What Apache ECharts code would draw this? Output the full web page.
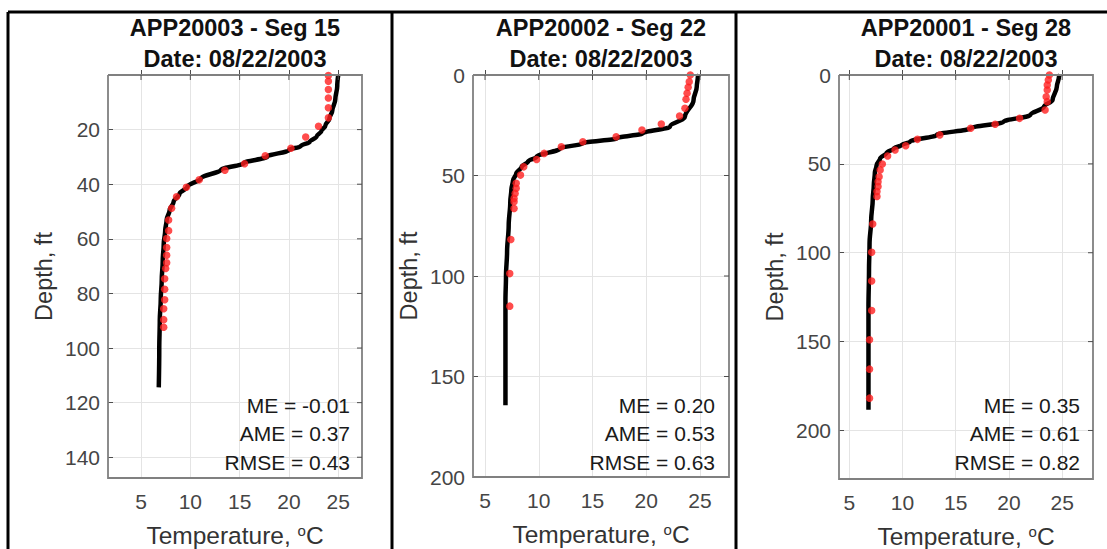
<!DOCTYPE html>
<html>
<head>
<meta charset="utf-8">
<script src="https://cdn.jsdelivr.net/npm/echarts@6/dist/echarts.min.js"></script>
<style>
  html, body { margin: 0; padding: 0; background: #ffffff; }
  #chart { width: 1107px; height: 549px; }
</style>
</head>
<body>
<div id="chart"></div>
<script>
// ---- data -------------------------------------------------------------
const tempTicks = [5, 10, 15, 20, 25];
const depthTicksSeg15 = [20, 40, 60, 80, 100, 120, 140];
const depthTicksSeg22 = [0, 50, 100, 150, 200];
const depthTicksSeg28 = [0, 50, 100, 150, 200];

const profileTitles = ['APP20003 - Seg 15', 'APP20002 - Seg 22', 'APP20001 - Seg 28'];
const profileDate = 'Date: 08/22/2003';

const meValues = ['-0.01', '0.20', '0.35'];
const ameValues = ['0.37', '0.53', '0.61'];
const rmseValues = ['0.43', '0.63', '0.82'];

// simulated profiles [temperature °C, depth ft]
const modelSeg15 = [
  [25.0, 0], [24.9, 4], [24.7, 9], [24.4, 13], [24.1, 16], [23.7, 18.5], [23.3, 20.5],
  [22.8, 22.5], [22.1, 24.5], [21.2, 26], [20.0, 27.5], [17.8, 29.9], [15.4, 32.3],
  [13.1, 34.7], [11.1, 37.8], [9.7, 40.9], [8.9, 43.5], [8.3, 46.5], [7.9, 49.5],
  [7.6, 53], [7.45, 57], [7.3, 62], [7.2, 68], [7.1, 75], [7.0, 82], [6.9, 90],
  [6.85, 100], [6.8, 114.4]
];
const modelSeg22 = [
  [24.9, 0], [24.8, 1], [24.7, 5.8], [24.4, 12.5], [23.6, 20.8], [22.2, 25.7], [19.7, 29],
  [17.3, 31.5], [14.1, 34], [12.0, 36.5], [9.8, 40.7], [9.0, 43], [8.4, 45.7], [7.9, 49],
  [7.6, 52.5], [7.45, 57], [7.35, 63], [7.2, 75], [7.05, 88], [6.95, 100], [6.9, 112],
  [6.9, 164.3]
];
const modelSeg28 = [
  [24.8, 0], [24.7, 1], [24.5, 6.6], [24.1, 14.1], [23.3, 17.8], [22.0, 22.5], [19.5, 26.3],
  [16.4, 30], [13.2, 33.7], [10.7, 37.5], [9.9, 39.5], [9.2, 41.2], [8.5, 43.8], [7.9, 46.9],
  [7.55, 51], [7.4, 55], [7.3, 62], [7.2, 70], [7.05, 82], [6.9, 95], [6.85, 110],
  [6.8, 130], [6.8, 188.4]
];

// observed profiles [temperature °C, depth ft]
const obsSeg15 = [
  [24.0, 0.2], [24.0, 2.3], [24.0, 5.3], [24.0, 8.4], [24.0, 12], [24.0, 15.7], [23.0, 18.8],
  [21.7, 22.7], [20.2, 26.8], [17.6, 29.6], [15.5, 32.5], [13.5, 34.9], [10.9, 38.4],
  [9.6, 41.1], [8.6, 44.6], [8.1, 48.8], [7.8, 53.1], [7.8, 57], [7.6, 59.9], [7.6, 63.2],
  [7.6, 66], [7.6, 68.8], [7.5, 70.9], [7.4, 74.6], [7.4, 78.5], [7.4, 82.3], [7.3, 85.6],
  [7.3, 89.6], [7.3, 92.4]
];
const obsSeg22 = [
  [24.1, 0], [24.0, 3.3], [23.9, 6.1], [23.8, 9.1], [23.7, 12.1], [23.6, 16.6], [23.1, 20.4],
  [21.4, 24.4], [19.6, 27.4], [17.2, 30.7], [14.1, 33.2], [12.1, 35.7], [10.5, 39],
  [9.8, 42], [8.6, 45.7], [8.3, 49.8], [7.9, 53.9], [7.9, 56.4], [7.8, 58.9], [7.7, 61.4],
  [7.7, 63.1], [7.7, 66.4], [7.4, 81.8], [7.3, 98.8], [7.3, 115]
];
const obsSeg28 = [
  [23.8, 0], [23.7, 2.8], [23.6, 5.6], [23.6, 8.4], [23.5, 12.2], [23.6, 15], [23.4, 19.7],
  [21.0, 24.4], [18.7, 27.7], [16.4, 30], [13.5, 33.7], [11.4, 36.2], [10.3, 39.8],
  [9.3, 42.2], [8.6, 45.6], [8.1, 50.1], [7.9, 53.4], [7.8, 57.2], [7.7, 60], [7.7, 62.8],
  [7.6, 65.6], [7.6, 68.4], [7.2, 83.8], [7.1, 99.7], [7.1, 115.9], [7.1, 132.5],
  [6.9, 149], [6.9, 165.5], [6.9, 181.8]
];

// ---- layout -----------------------------------------------------------
const panels = [
  { left: 108, top: 75, width: 254, height: 403, xMin: 1.65, xMax: 27.41, yMin: 0, yMax: 147.6,
    yTicks: depthTicksSeg15, model: modelSeg15, obs: obsSeg15, statsRight: 350 },
  { left: 473, top: 75, width: 256, height: 402, xMin: 3.88, xMax: 27.7, yMin: 0, yMax: 200,
    yTicks: depthTicksSeg22, model: modelSeg22, obs: obsSeg22, statsRight: 715 },
  { left: 839, top: 75, width: 254, height: 404, xMin: 4.03, xMax: 27.9, yMin: 0, yMax: 227.3,
    yTicks: depthTicksSeg28, model: modelSeg28, obs: obsSeg28, statsRight: 1080 }
];

const FONT = '"Liberation Sans", Arial, Helvetica, sans-serif';
const boxColor = '#808080';
const tickColor = '#4d4d4d';
const gridColor = '#e4e4e4';
const labelColor = '#454545';
const TICK_LEN = 5;

const grid = [], xAxis = [], yAxis = [], series = [], graphic = [];

panels.forEach((p, i) => {
  grid.push({ left: p.left, top: p.top, width: p.width, height: p.height,
              containLabel: false, outerBoundsMode: 'none' });

  xAxis.push({
    type: 'value', gridIndex: i, position: 'bottom', min: p.xMin, max: p.xMax,
    axisLine: { show: false },
    axisTick: { show: true, inside: true, length: TICK_LEN, customValues: tempTicks,
                lineStyle: { color: tickColor, width: 1 } },
    axisLabel: { customValues: tempTicks, color: labelColor, fontSize: 21, fontFamily: FONT, margin: 13 },
    splitLine: { show: true, lineStyle: { color: gridColor, width: 1 } },
    name: 'Temperature, {sup|o}C', nameLocation: 'middle', nameGap: 45,
    nameTextStyle: { color: '#333333', fontSize: 24.5, fontFamily: FONT,
      rich: { sup: { fontSize: 15, color: '#333333', fontFamily: FONT, verticalAlign: 'top' } } }
  });
  yAxis.push({
    type: 'value', gridIndex: i, position: 'left', inverse: true, min: p.yMin, max: p.yMax,
    axisLine: { show: false },
    axisTick: { show: true, inside: true, length: TICK_LEN, customValues: p.yTicks,
                lineStyle: { color: tickColor, width: 1 } },
    axisLabel: { customValues: p.yTicks, color: labelColor, fontSize: 21, fontFamily: FONT, margin: 8 },
    splitLine: { show: true, lineStyle: { color: gridColor, width: 1 } },
    name: 'Depth, ft', nameLocation: 'middle', nameGap: 52,
    nameTextStyle: { color: '#333333', fontSize: 23.5, fontFamily: FONT }
  });

  series.push({
    type: 'line', name: 'Simulated', xAxisIndex: i, yAxisIndex: i,
    data: p.model, showSymbol: false, smooth: 0.35, smoothMonotone: 'y',
    lineStyle: { color: '#000000', width: 4.5 }, z: 2, animation: false
  });
  series.push({
    type: 'scatter', name: 'Observed', xAxisIndex: i, yAxisIndex: i,
    data: p.obs, symbol: 'circle', symbolSize: 7.5,
    itemStyle: { color: '#ff1f1f' }, z: 3, animation: false
  });

  // axes box: all four edges
  graphic.push({ type: 'polyline', z: 15,
    shape: { points: [[p.left, p.top], [p.left + p.width, p.top], [p.left + p.width, p.top + p.height],
                      [p.left, p.top + p.height], [p.left, p.top]] },
    style: { stroke: boxColor, lineWidth: 1.8, fill: null } });

  const cx = p.left + p.width / 2;
  graphic.push({ type: 'text', x: cx, y: 28, z: 10,
    style: { text: profileTitles[i], font: 'bold 23.5px ' + FONT, fill: '#111111',
             align: 'center', verticalAlign: 'middle', textAlign: 'center', textVerticalAlign: 'middle' } });
  graphic.push({ type: 'text', x: cx, y: 59, z: 10,
    style: { text: profileDate, font: 'bold 23.5px ' + FONT, fill: '#111111',
             align: 'center', verticalAlign: 'middle', textAlign: 'center', textVerticalAlign: 'middle' } });

  const stats = ['ME = ' + meValues[i], 'AME = ' + ameValues[i], 'RMSE = ' + rmseValues[i]];
  stats.forEach((s, k) => {
    graphic.push({ type: 'text', x: p.statsRight, y: 405 + k * 28.5, z: 10,
      style: { text: s, font: '21px ' + FONT, fill: '#1a1a1a',
               align: 'right', verticalAlign: 'middle', textAlign: 'right', textVerticalAlign: 'middle' } });
  });
});

// table frame around the three panels
const frame = { stroke: '#000000', lineWidth: 3 };
[[8, 12, 1107, 12], [8, 12, 8, 549], [392, 12, 392, 549], [736, 12, 736, 549]].forEach(l => {
  graphic.push({ type: 'line', z: 20, shape: { x1: l[0], y1: l[1], x2: l[2], y2: l[3] }, style: frame });
});

const chart = echarts.init(document.getElementById('chart'), null, { renderer: 'svg' });
chart.setOption({
  backgroundColor: '#ffffff',
  animation: false,
  grid: grid,
  xAxis: xAxis,
  yAxis: yAxis,
  series: series,
  graphic: graphic
});

// mirrored inward ticks on the top and right edges, placed through each grid's own scales
const mirrorTicks = [];
panels.forEach((p, i) => {
  const right = p.left + p.width;
  tempTicks.forEach(v => {
    const px = chart.convertToPixel({ gridIndex: i }, [v, p.yMin])[0];
    mirrorTicks.push({ type: 'line', z: 16,
      shape: { x1: px, y1: p.top, x2: px, y2: p.top + TICK_LEN },
      style: { stroke: tickColor, lineWidth: 1 } });
  });
  p.yTicks.forEach(v => {
    if (v <= p.yMin || v >= p.yMax) return;
    const py = chart.convertToPixel({ gridIndex: i }, [p.xMin, v])[1];
    mirrorTicks.push({ type: 'line', z: 16,
      shape: { x1: right - TICK_LEN, y1: py, x2: right, y2: py },
      style: { stroke: tickColor, lineWidth: 1 } });
  });
});
chart.setOption({ graphic: graphic.concat(mirrorTicks) });
</script>
</body>
</html>
